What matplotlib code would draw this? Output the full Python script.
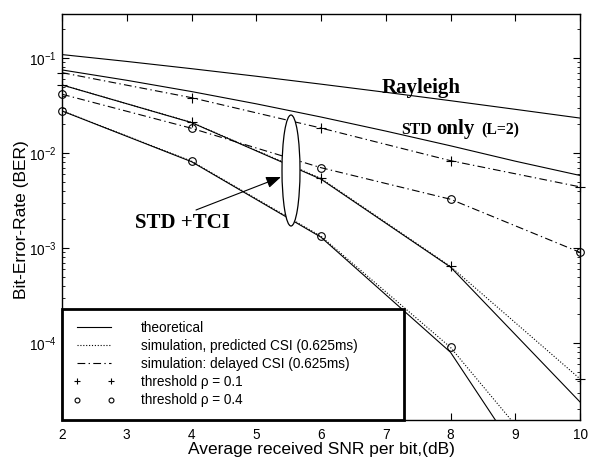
import matplotlib
matplotlib.use("Agg")
import matplotlib.pyplot as plt
from matplotlib.lines import Line2D
from matplotlib.patches import Rectangle, Ellipse
from matplotlib.ticker import LogLocator, NullFormatter

plt.rcParams['font.family'] = ['Liberation Sans', 'DejaVu Sans']
plt.rcParams['mathtext.fontset'] = 'custom'
plt.rcParams['mathtext.rm'] = 'Liberation Sans'
plt.rcParams['mathtext.it'] = 'Liberation Sans:italic'
plt.rcParams['axes.unicode_minus'] = False

# ---- data ----
snr_fine = [2, 3, 4, 5, 6, 7, 8, 9, 10]
ber_rayleigh = [0.1085, 0.0919, 0.0771, 0.0642, 0.053, 0.0435, 0.0355, 0.0288, 0.0233]
ber_std_only = [0.0748, 0.0582, 0.0443, 0.0329, 0.0239, 0.0170, 0.0119, 0.0082, 0.0058]

snr = [2, 4, 6, 8, 10]
theo_r01 = [0.052, 0.0209, 0.0053, 0.00063, 2.4e-5]
theo_r04 = [0.0277, 0.0081, 0.0013, 8.0e-5, 7e-7]
pred_r01 = [0.052, 0.0210, 0.0054, 0.00064, 4.2e-5]
pred_r04 = [0.0278, 0.0082, 0.00133, 9.0e-5, 2.1e-6]
delay_r01 = [0.070, 0.0382, 0.0183, 0.0083, 0.0044]
delay_r04 = [0.0415, 0.0182, 0.0070, 0.00326, 0.0009]

legend_labels = ['theoretical', 'simulation, predicted CSI (0.625ms)',
                 'simulation: delayed CSI (0.625ms)',
                 'threshold \u03c1 = 0.1', 'threshold \u03c1 = 0.4']

YMIN, YMAX = 1.55e-5, 0.29

fig = plt.figure(figsize=(5.95, 4.59), dpi=100)
ax = fig.add_axes([62/595, 1-420/459, (580-62)/595, (420-14)/459])

lw = 0.8
dotted = (0, (1, 1.6))
dashdot = (0, (7, 3, 1.2, 3))

ax.plot(snr_fine, ber_rayleigh, color='k', lw=lw)
ax.plot(snr_fine, ber_std_only, color='k', lw=lw)
ax.plot(snr, theo_r01, color='k', lw=lw)
ax.plot(snr, theo_r04, color='k', lw=lw)
ax.plot(snr, pred_r01, color='k', lw=lw, linestyle=dotted)
ax.plot(snr, pred_r04, color='k', lw=lw, linestyle=dotted)
ax.plot(snr, delay_r01, color='k', lw=lw, linestyle=dashdot)
ax.plot(snr, delay_r04, color='k', lw=lw, linestyle=dashdot)

def marks(xs, ys, m, ms):
    px = [a for a, b in zip(xs, ys) if b >= YMIN]
    py = [b for b in ys if b >= YMIN]
    ax.plot(px, py, linestyle='none', marker=m, ms=ms, mfc='none', mec='k',
            mew=0.8, clip_on=False, zorder=4)

marks(snr, pred_r01, '+', 7)
marks(snr, delay_r01, '+', 7)
marks(snr, pred_r04, 'o', 5.5)
marks(snr, delay_r04, 'o', 5.5)

ax.set_xlim(2, 10)
ax.set_yscale('log')
ax.set_ylim(YMIN, YMAX)
ax.set_xticks(range(2, 11))
ax.yaxis.set_major_locator(LogLocator(base=10, numticks=20))
ax.yaxis.set_minor_locator(LogLocator(base=10, subs=range(2, 10), numticks=20))
ax.yaxis.set_minor_formatter(NullFormatter())
ax.tick_params(which='both', direction='in', top=True, right=True, labelsize=9.8)
ax.tick_params(which='major', length=5, width=0.8)
ax.tick_params(axis='x', which='major', pad=6)
ax.tick_params(axis='y', which='major', pad=4)
ax.tick_params(which='minor', length=2.5, width=0.6)
for s in ax.spines.values():
    s.set_linewidth(1.0)

ax.set_xlabel('Average received SNR per bit,(dB)', fontsize=12.5, labelpad=0)
ax.set_ylabel('Bit-Error-Rate (BER)', fontsize=12.5)
ax.yaxis.set_label_coords((29-62)/518, (420-220)/406)

# legend box
rect = Rectangle((0, 0), (404-62)/518, (420-309)/406, transform=ax.transAxes,
                 facecolor='white', edgecolor='k', lw=2.0, zorder=5, clip_on=False)
ax.add_patch(rect)
handles = [Line2D([], [], color='k', lw=lw),
           Line2D([], [], color='k', lw=lw, linestyle=dotted),
           Line2D([], [], color='k', lw=lw, linestyle=dashdot),
           Line2D([], [], color='k', linestyle='none', marker='+', ms=4.5, mew=0.8),
           Line2D([], [], color='k', linestyle='none', marker='o', ms=3.5, mfc='none', mew=0.8)]
leg = ax.legend(handles, legend_labels, loc='upper left',
                bbox_to_anchor=((73-62)/518, (420-320.5)/406), borderaxespad=0,
                borderpad=0, frameon=False, fontsize=9.8, numpoints=2,
                handlelength=3.1, handletextpad=1.9, labelspacing=0.31)
leg.set_zorder(6)

# ellipse and arrow
ell = Ellipse(((291-62)/518, (420-170.5)/406), 18/518, 111/406, transform=ax.transAxes,
              facecolor='white', edgecolor='k', lw=0.9, zorder=3)
ax.add_patch(ell)
ax.annotate('', xy=((281-62)/518, (420-177)/406), xytext=((196-62)/518, (420-210)/406),
            xycoords='axes fraction', textcoords='axes fraction',
            arrowprops=dict(arrowstyle='-|>,head_length=0.9,head_width=0.35',
                            color='k', lw=0.8, shrinkA=0, shrinkB=0))

serif = ['Liberation Serif', 'DejaVu Serif']
def ftext(px, py, s, size):
    fig.text(px/595, 1-py/459, s, fontsize=size, fontweight='bold', family=serif,
             ha='left', va='baseline')

ftext(381.7, 93.3, 'Rayleigh', 15)
ftext(400.7, 134, 'STD', 11.3)
ftext(436.7, 134, 'only', 15)
ftext(481.7, 134, '(L=2)', 11.3)
ftext(135, 228.3, 'STD +TCI', 15)

fig.savefig('out.png', dpi=100)
